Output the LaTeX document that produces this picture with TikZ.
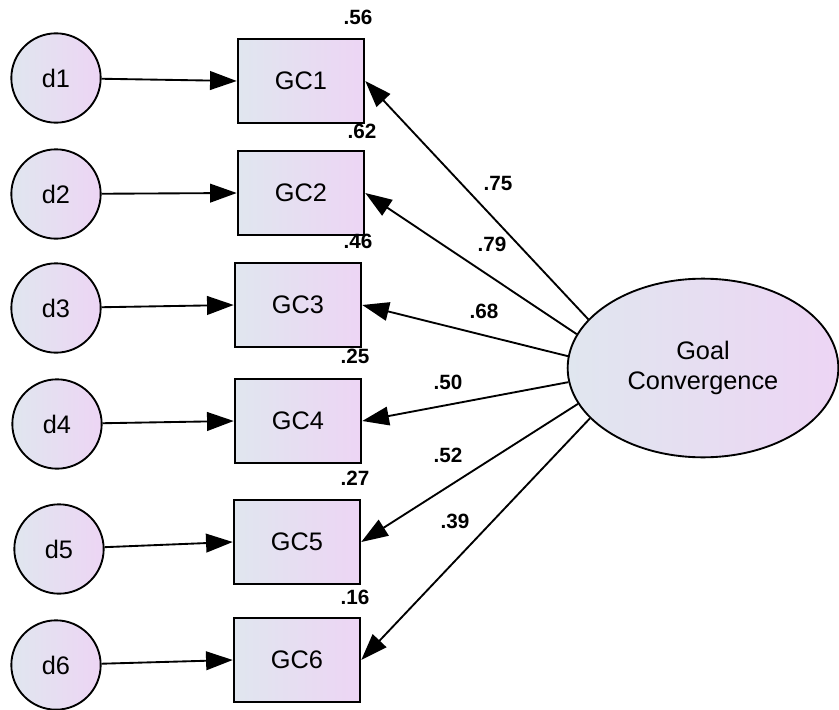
\documentclass[tikz,border=0pt]{standalone}
\usepackage{fontspec}
\setmainfont{Liberation Sans}
\usetikzlibrary{arrows.meta,shapes.geometric}

\definecolor{fillL}{RGB}{224,230,239}
\definecolor{fillR}{RGB}{237,213,244}

\begin{document}
\begin{tikzpicture}[x=0.75pt,y=-0.75pt,
  every node/.style={font=\fontsize{19}{22}\selectfont},
  err/.style={circle,draw,line width=1.4pt,minimum size=67pt,inner sep=0,left color=fillL,right color=fillR},
  obs/.style={rectangle,draw,line width=1.4pt,minimum width=95pt,minimum height=63pt,left color=fillL,right color=fillR},
  lat/.style={ellipse,draw,line width=1.4pt,minimum width=203pt,minimum height=134pt,inner sep=0,align=center,left color=fillL,right color=fillR},
  num/.style={font=\fontsize{15.5}{17}\selectfont\bfseries},
  path/.style={line width=1.4pt,-{Triangle[length=20pt,width=14pt]}}]

\useasboundingbox (0,0) rectangle (839,710);

% errors
\node [err] (d1) at (56,78) {d1};
\node [err] (d2) at (56,194) {d2};
\node [err] (d3) at (56,308) {d3};
\node [err] (d4) at (57,424) {d4};
\node [err] (d5) at (59,549) {d5};
\node [err] (d6) at (56,665) {d6};

% indicators
\node [obs] (gc1) at (301,81) {GC1};
\node [obs] (gc2) at (301,193) {GC2};
\node [obs] (gc3) at (298,305) {GC3};
\node [obs] (gc4) at (298,421) {GC4};
\node [obs] (gc5) at (297,542) {GC5};
\node [obs] (gc6) at (297,660) {GC6};

% latent
\node [lat] (goal) at (703,368) {Goal\\Convergence};

\draw [path] (d1) -- (gc1.west);
\draw [path] (d2) -- (gc2.west);
\draw [path] (d3) -- (gc3.west);
\draw [path] (d4) -- (gc4.west);
\draw [path] (d5) -- (gc5.west);
\draw [path] (d6) -- (gc6.west);

\draw [path] (goal.157) -- (gc1.east);
\draw [path] (goal.165.5) -- (gc2.east);
\draw [path] (goal.175) -- (gc3.east);
\draw [path] (goal.186) -- (gc4.east);
\draw [path] (goal.196) -- (gc5.east);
\draw [path] (goal.204.5) -- (gc6.east);

% squared multiple correlations
\node [num] (r1) at (358,17) {.56};
\node [num] (r2) at (362,131) {.62};
\node [num] (r3) at (358,241) {.46};
\node [num] (r4) at (355,356) {.25};
\node [num] (r5) at (355,478) {.27};
\node [num] (r6) at (355,597) {.16};

% loadings
\node [num] (w1) at (498,183) {.75};
\node [num] (w2) at (492,244) {.79};
\node [num] (w3) at (484,311) {.68};
\node [num] (w4) at (448,382) {.50};
\node [num] (w5) at (448,455) {.52};
\node [num] (w6) at (455,521) {.39};

\end{tikzpicture}
\end{document}
